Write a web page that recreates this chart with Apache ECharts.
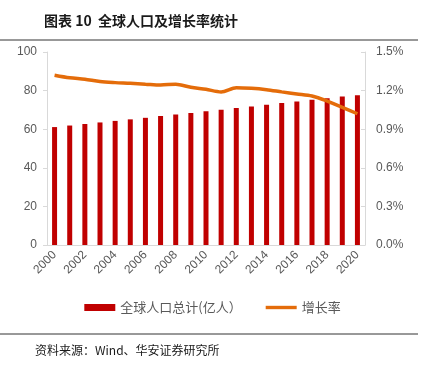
<!DOCTYPE html>
<html>
<head>
<meta charset="utf-8">
<script src="https://cdn.jsdelivr.net/npm/echarts@6/dist/echarts.min.js"></script>
<style>html,body{margin:0;padding:0;background:#fff;}#c{width:425px;height:366px;}</style>
</head>
<body>
<div id="c"></div>
<script>
var years = ['2000','2001','2002','2003','2004','2005','2006','2007','2008','2009','2010','2011','2012','2013','2014','2015','2016','2017','2018','2019','2020'];
var population = [61.1, 61.9, 62.7, 63.5, 64.3, 65.1, 65.9, 66.8, 67.6, 68.4, 69.3, 70.1, 71.0, 71.8, 72.7, 73.6, 74.4, 75.3, 76.1, 77.0, 77.6];
var growth = [1.32, 1.30, 1.288, 1.27, 1.262, 1.257, 1.25, 1.243, 1.25, 1.226, 1.21, 1.19, 1.223, 1.218, 1.207, 1.19, 1.174, 1.158, 1.119, 1.07, 1.02];
var leftTicks = [0, 20, 40, 60, 80, 100];
var rightTicks = [0, 0.3, 0.6, 0.9, 1.2, 1.5];

var chart = echarts.init(document.getElementById('c'));
var axisFont = {color:'#595959', fontSize:12, fontFamily:'Liberation Sans, Arial, sans-serif'};
chart.setOption({
  animation:false,
  title:{text:'图表 10  全球人口及增长率统计', left:39, top:9,
    textStyle:{fontSize:14, fontWeight:'bold', color:'#1a1a1a', fontFamily:'Noto Sans CJK SC'}},
  graphic:[
    {type:'line', shape:{x1:0,y1:40,x2:418,y2:40}, style:{stroke:'#333', lineWidth:1}},
    {type:'line', shape:{x1:0,y1:334,x2:418,y2:334}, style:{stroke:'#333', lineWidth:1}},
    {type:'text', left:35, top:344, style:{text:'资料来源：Wind、华安证券研究所', fontSize:12, fill:'#1a1a1a', fontFamily:'Noto Sans CJK SC'}}
  ],
  grid:{left:47, right:60, top:52, bottom:121},
  legend:{left:'center', top:296, itemGap:24, itemWidth:31, itemHeight:7,
    textStyle:{color:'#595959', fontSize:13, fontFamily:'Noto Sans CJK SC'},
    data:[{name:'全球人口总计(亿人）', icon:'rect'},
          {name:'增长率', icon:'path://M0 0H32V3.5H0Z', itemStyle:{color:'#E46C0A'}}]},
  xAxis:{type:'category', data:years, boundaryGap:true,
    axisLine:{lineStyle:{color:'#D9D9D9'}},
    axisTick:{interval:1, length:5, lineStyle:{color:'#D9D9D9'}},
    axisLabel:Object.assign({interval:1, rotate:45, margin:8}, axisFont)},
  yAxis:[
    {type:'value', min:0, max:100, interval:20, splitLine:{show:false},
      axisLine:{show:true, lineStyle:{color:'#D9D9D9'}},
      axisTick:{show:true, length:4, lineStyle:{color:'#D9D9D9'}},
      axisLabel:Object.assign({margin:10, formatter:function(v){return leftTicks.indexOf(v)>=0?String(v):'';}}, axisFont)},
    {type:'value', min:0, max:1.5, interval:0.3, splitLine:{show:false},
      axisLine:{show:true, lineStyle:{color:'#D9D9D9'}},
      axisTick:{show:true, inside:true, length:4, lineStyle:{color:'#D9D9D9'}},
      axisLabel:Object.assign({margin:11, formatter:function(v){return v.toFixed(1)+'%';}}, axisFont)}
  ],
  series:[
    {name:'全球人口总计(亿人）', type:'bar', data:population, barWidth:5,
      itemStyle:{color:'#C00000'}},
    {name:'增长率', type:'line', yAxisIndex:1, data:growth, smooth:0.3, symbol:'none',
      lineStyle:{color:'#E46C0A', width:3.5}, itemStyle:{color:'#E46C0A'}}
  ]
});
</script>
</body>
</html>
